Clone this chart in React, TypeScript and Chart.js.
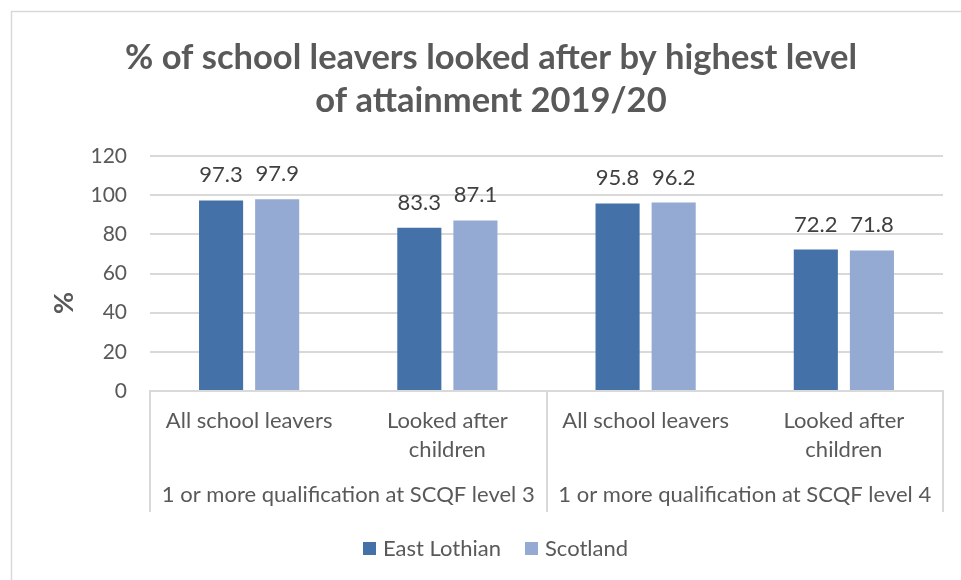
import React, { useEffect, useRef } from "react";
import { Chart, registerables } from "chart.js";

Chart.register(...registerables);

const subCategories = ["All school leavers", "Looked after children", "All school leavers", "Looked after children"];
const subCategoryLines = [["All school leavers"], ["Looked after", "children"], ["All school leavers"], ["Looked after", "children"]];
const groupLabels = ["1 or more qualification at SCQF level 3", "1 or more qualification at SCQF level 4"];
const seriesNames = ["East Lothian", "Scotland"];
const eastLothian = [97.3, 83.3, 95.8, 72.2];
const scotland = [97.9, 87.1, 96.2, 71.8];
const seriesColors = ["#4472A8", "#95AAD2"];
const yTicks = { min: 0, max: 120, step: 20 };
const titleLines = ["% of school leavers looked after by highest level", "of attainment 2019/20"];
const yTitle = "%";

const FONT = "Lato, 'Open Sans', sans-serif";
const TEXT = "#595959";
const GRID = "#D9D9D9";

const decorations = {
  id: "decorations",
  afterDraw(chart: any) {
    const ctx = chart.ctx as CanvasRenderingContext2D;
    const area = chart.chartArea;
    const x = chart.scales.x;
    ctx.save();

    // outer frame of the chart (continues past the right and bottom edges)
    ctx.strokeStyle = GRID;
    ctx.lineWidth = 1.5;
    ctx.beginPath();
    ctx.moveTo(11.5, 600);
    ctx.lineTo(11.5, 11.5);
    ctx.lineTo(980, 11.5);
    ctx.stroke();

    // title
    ctx.fillStyle = TEXT;
    ctx.textAlign = "center";
    ctx.textBaseline = "middle";
    ctx.font = `bold 34.5px ${FONT}`;
    ctx.fillText(titleLines[0], 491, 58);
    ctx.fillText(titleLines[1], 491, 101);

    // y-axis title
    ctx.save();
    ctx.translate(64, 303);
    ctx.rotate(-Math.PI / 2);
    ctx.font = `bold 27px ${FONT}`;
    ctx.fillText(yTitle, 0, 0);
    ctx.restore();

    // multi-level category axis: dividers
    const n = subCategories.length;
    const half = (x.getPixelForValue(1) - x.getPixelForValue(0)) / 2;
    ctx.strokeStyle = GRID;
    ctx.lineWidth = 2;
    const groupEdges = [x.getPixelForValue(0) - half, x.getPixelForValue(1) + half, x.getPixelForValue(n - 1) + half];
    groupEdges.forEach((gx) => {
      ctx.beginPath();
      ctx.moveTo(Math.round(gx), area.bottom);
      ctx.lineTo(Math.round(gx), 512);
      ctx.stroke();
    });

    // category labels
    ctx.fillStyle = TEXT;
    ctx.font = `22px ${FONT}`;
    subCategoryLines.forEach((lines, i) => {
      const cx = x.getPixelForValue(i);
      lines.forEach((line, j) => ctx.fillText(line, cx, 421 + j * 29));
    });
    groupLabels.forEach((g, k) => {
      const cx = (x.getPixelForValue(2 * k) + x.getPixelForValue(2 * k + 1)) / 2;
      ctx.fillText(g, cx, 495);
    });

    // value labels above each bar
    ctx.fillStyle = "#404040";
    ctx.textBaseline = "alphabetic";
    chart.data.datasets.forEach((ds: any, di: number) => {
      const meta = chart.getDatasetMeta(di);
      meta.data.forEach((bar: any, i: number) => {
        ctx.fillText(String(ds.data[i]), bar.x, bar.y - 18);
      });
    });

    // legend
    ctx.textAlign = "left";
    ctx.textBaseline = "middle";
    ctx.font = `22px ${FONT}`;
    const legendX = [363, 525];
    seriesNames.forEach((name, i) => {
      ctx.fillStyle = seriesColors[i];
      ctx.fillRect(legendX[i], 542, 13, 13);
      ctx.fillStyle = TEXT;
      ctx.fillText(name, legendX[i] + 20, 549);
    });

    ctx.restore();
  },
};

export default function App() {
  const ref = useRef<HTMLCanvasElement | null>(null);

  useEffect(() => {
    if (!ref.current) return;
    const chart = new Chart(ref.current, {
      type: "bar",
      data: {
        labels: subCategories,
        datasets: [
          { label: seriesNames[0], data: eastLothian, backgroundColor: seriesColors[0], borderWidth: 0 },
          { label: seriesNames[1], data: scotland, backgroundColor: seriesColors[1], borderWidth: 0 },
        ],
      },
      options: {
        responsive: false,
        animation: false,
        devicePixelRatio: 1,
        datasets: { bar: { categoryPercentage: 0.566, barPercentage: 0.786 } },
        layout: { padding: { left: 0, right: 18, top: 156, bottom: 189 } },
        plugins: { legend: { display: false }, title: { display: false }, tooltip: { enabled: false } },
        scales: {
          x: {
            ticks: { display: false },
            grid: { display: false },
            border: { display: true, color: GRID, width: 2 },
            afterFit: (s: any) => { s.height = 0; },
          },
          y: {
            min: yTicks.min,
            max: yTicks.max,
            ticks: { stepSize: yTicks.step, color: TEXT, font: { family: FONT, size: 21 }, padding: 23 },
            grid: { color: GRID, lineWidth: 2, drawTicks: false },
            border: { display: false },
            afterFit: (s: any) => { s.width = 150; },
          },
        },
      },
      plugins: [decorations],
    });
    return () => chart.destroy();
  }, []);

  return (
    <div style={{ position: "fixed", left: 0, top: 0, width: 961, height: 580, background: "#fff", overflow: "hidden" }}>
      <canvas ref={ref} width={961} height={580} style={{ display: "block" }} />
    </div>
  );
}
